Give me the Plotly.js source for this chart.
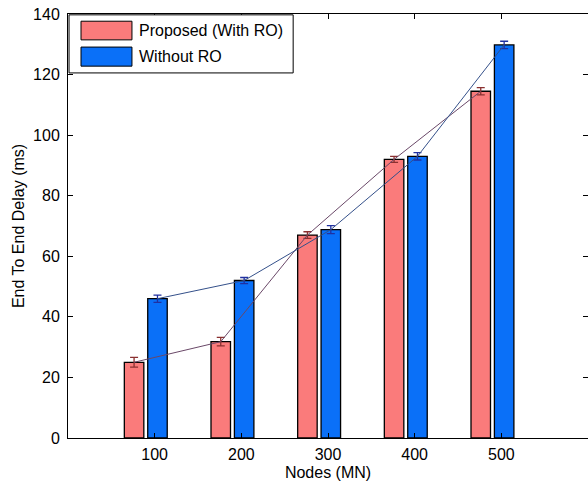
<!DOCTYPE html>
<html>
<head>
<meta charset="utf-8">
<script src="https://cdn.plot.ly/plotly-3.0.1.min.js"></script>
<style>html,body{margin:0;padding:0;background:#fff;}#chart{width:588px;height:488px;}</style>
</head>
<body>
<div id="chart"></div>
<script>
const nodes = [100, 200, 300, 400, 500];
const proposed = [25, 31.8, 67, 92, 114.5];
const withoutRO = [46, 52, 68.8, 93, 129.8];
const proposedErr = [1.6, 1.4, 1.1, 1.0, 1.2];
const withoutErr = [1.2, 1.0, 1.3, 1.2, 1.2];
const seriesNames = ['Proposed (With RO)', 'Without RO'];
const yTicks = [0, 20, 40, 60, 80, 100, 120, 140];

const redFill = '#fa7b7b', blueFill = '#0a70f8';
const redOff = -35, blueOff = -8, barW = 22.5;
const redCenter = redOff + barW / 2, blueCenter = blueOff + barW / 2;

const font = {family: 'Liberation Sans, Arial, sans-serif', size: 16, color: '#000'};

const traces = [
  {type: 'bar', x: nodes, y: proposed, offset: redOff, width: barW,
   marker: {color: redFill, line: {color: '#000', width: 1.3}},
   error_y: {type: 'data', array: proposedErr, visible: true, color: '#8a3030', thickness: 1.3, width: 4},
   name: seriesNames[0], showlegend: false},
  {type: 'bar', x: nodes, y: withoutRO, offset: blueOff, width: barW,
   marker: {color: blueFill, line: {color: '#000', width: 1.3}},
   error_y: {type: 'data', array: withoutErr, visible: true, color: '#2030a0', thickness: 1.3, width: 4},
   name: seriesNames[1], showlegend: false},
  {type: 'scatter', mode: 'lines', x: nodes.map(v => v + redCenter), y: proposed,
   line: {color: '#6a4868', width: 1}, showlegend: false, hoverinfo: 'skip'},
  {type: 'scatter', mode: 'lines', x: nodes.map(v => v + blueCenter), y: withoutRO,
   line: {color: '#34508a', width: 1}, showlegend: false, hoverinfo: 'skip'}
];

const layout = {
  width: 588, height: 488,
  margin: {l: 68, r: 0, t: 14, b: 50},
  paper_bgcolor: '#fff', plot_bgcolor: '#fff',
  font: font,
  showlegend: false,
  barmode: 'overlay',
  xaxis: {
    range: [0, 600], tickvals: nodes, ticktext: nodes.map(String),
    showgrid: false, zeroline: false, showline: true, linecolor: '#000', linewidth: 1,
    mirror: 'ticks', ticks: 'inside', ticklen: 5, tickcolor: '#000',
    tickfont: font, ticklabelstandoff: 2,
    title: {text: 'Nodes (MN)', font: font, standoff: 4}
  },
  yaxis: {
    range: [0, 140], tickvals: yTicks,
    showgrid: false, zeroline: false, showline: true, linecolor: '#000', linewidth: 1,
    mirror: 'ticks', ticks: 'inside', ticklen: 5, tickcolor: '#000',
    tickfont: font, ticklabelstandoff: 4,
    title: {text: 'End To End Delay (ms)', font: font, standoff: 4}
  },
  shapes: [
    {type: 'rect', xref: 'paper', yref: 'paper', x0: 0.002, x1: 0.433, y0: 0.861, y1: 0.998,
     fillcolor: '#fff', line: {color: '#000', width: 1}, layer: 'above'},
    {type: 'rect', xref: 'paper', yref: 'paper', x0: 0.025, x1: 0.123, y0: 0.939, y1: 0.983,
     fillcolor: redFill, line: {color: '#000', width: 1}, layer: 'above'},
    {type: 'rect', xref: 'paper', yref: 'paper', x0: 0.025, x1: 0.123, y0: 0.877, y1: 0.922,
     fillcolor: blueFill, line: {color: '#000', width: 1}, layer: 'above'}
  ],
  annotations: [
    {xref: 'paper', yref: 'paper', x: 0.133, y: 0.961, xanchor: 'left', yanchor: 'middle',
     text: seriesNames[0], showarrow: false, font: font},
    {xref: 'paper', yref: 'paper', x: 0.133, y: 0.900, xanchor: 'left', yanchor: 'middle',
     text: seriesNames[1], showarrow: false, font: font}
  ]
};

Plotly.newPlot('chart', traces, layout, {staticPlot: true, displayModeBar: false});
</script>
</body>
</html>
